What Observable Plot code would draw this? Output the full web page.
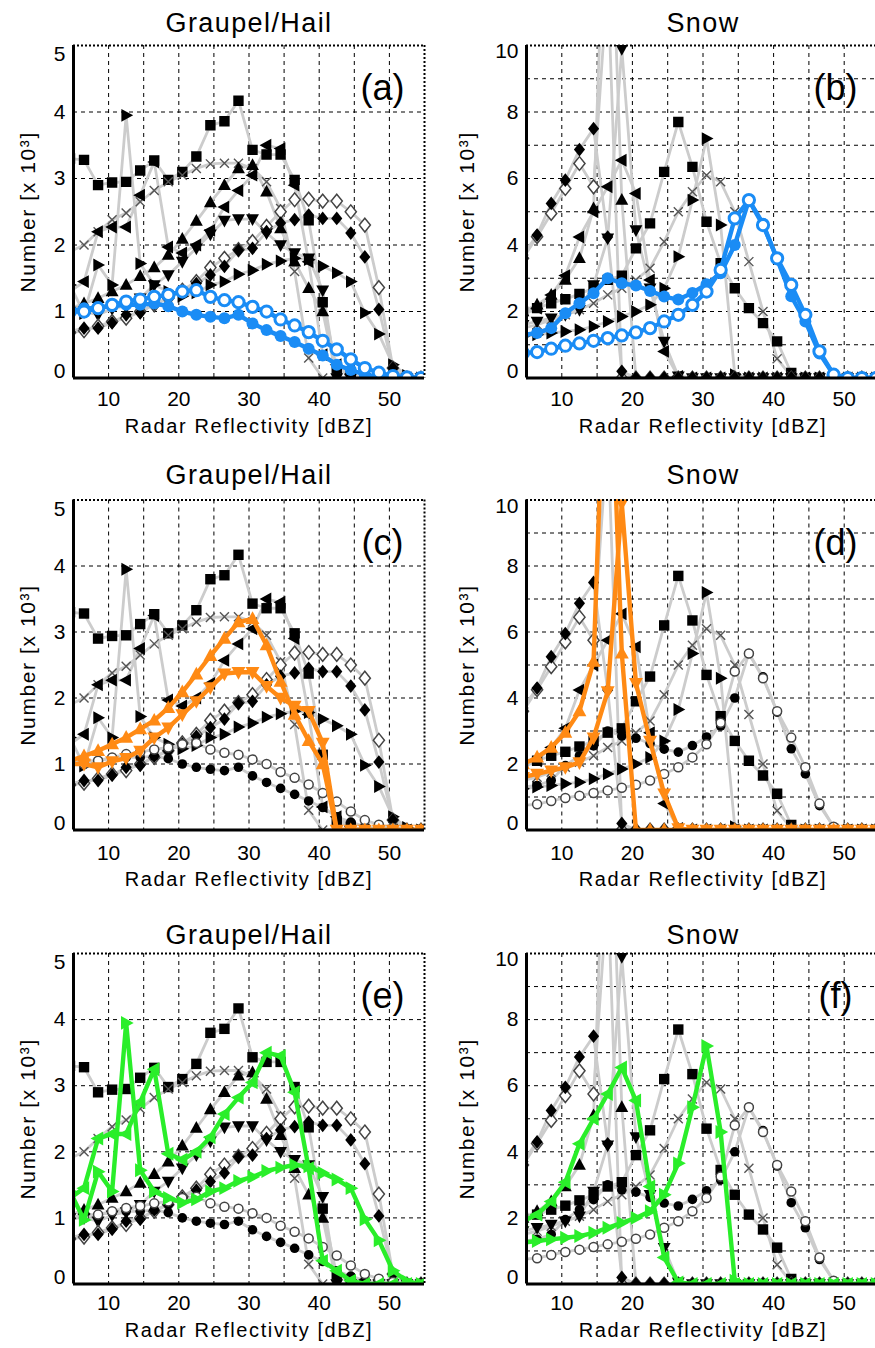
<!DOCTYPE html>
<html><head><meta charset="utf-8">
<script src="https://cdn.jsdelivr.net/npm/d3@7"></script>
<script src="https://cdn.jsdelivr.net/npm/@observablehq/plot@0.6"></script>
<style>
html,body{margin:0;padding:0;background:#fff;overflow:hidden;width:875px;height:1348px;}
#root{position:relative;width:875px;height:1348px;overflow:hidden;}
.panel{position:absolute;}
.panel svg{max-width:none !important;}
</style></head><body><div id="root"></div>
<script>
// ---------- data ----------
const dBZ = [4.5, 6.5, 8.5, 10.5, 12.5, 14.5, 16.5, 18.5, 20.5, 22.5, 24.5, 26.5, 28.5, 30.5, 32.5, 34.5, 36.5, 38.5, 40.5, 42.5, 44.5, 46.5, 48.5, 50.5, 52.5, 54.5];
const xTicks = [10, 20, 30, 40, 50];
const gridX = [10, 15, 20, 25, 30, 35, 40, 45, 50];
const gridYGraupel = [1, 2, 3, 4];
const gridYSnow = [1, 2, 3, 4, 5, 6, 7, 8, 9];
const yTicksGraupel = [0, 1, 2, 3, 4, 5];
const yTicksSnow = [0, 2, 4, 6, 8, 10];

// Graupel/Hail  (Number x 10^3)
const gSquare      = [3.30, 3.28, 2.90, 2.94, 2.95, 3.12, 3.27, 2.98, 3.10, 3.33, 3.80, 3.86, 4.17, 3.43, 3.36, 3.36, 2.98, 2.37, 1.14, 0.13, 0.05, 0, 0, 0, 0, 0];
const gCross       = [1.90, 2.00, 2.20, 2.38, 2.48, 2.65, 2.82, 2.95, 3.05, 3.15, 3.22, 3.23, 3.23, 3.15, 2.95, 2.55, 1.60, 0.30, 0, 0, 0, 0, 0, 0, 0, 0];
const gTriUp       = [1.05, 1.12, 1.20, 1.30, 1.40, 1.53, 1.66, 1.85, 2.09, 2.36, 2.64, 2.90, 3.15, 3.20, 2.80, 2.25, 1.75, 1.35, 1.00, 0, 0, 0, 0, 0, 0, 0];
const gTriDown     = [1.00, 1.00, 0.95, 1.04, 1.09, 1.20, 1.40, 1.55, 1.75, 1.95, 2.16, 2.37, 2.39, 2.39, 2.18, 2.00, 1.88, 1.80, 1.32, 0, 0, 0, 0, 0, 0, 0];
const gTriLeft     = [1.30, 1.45, 2.20, 2.27, 2.27, 2.75, 3.25, 1.97, 1.88, 2.00, 2.22, 2.57, 2.82, 3.05, 3.50, 3.45, 2.90, 1.75, 0.35, 0.20, 0.05, 0, 0, 0, 0, 0];
const gTriRight    = [1.40, 0.97, 1.70, 1.40, 3.95, 1.72, 1.40, 1.30, 1.23, 1.28, 1.40, 1.45, 1.56, 1.62, 1.71, 1.76, 1.80, 1.78, 1.68, 1.58, 1.45, 0.98, 0.66, 0.20, 0.04, 0];
const gDiamond     = [0.70, 0.75, 0.75, 0.83, 0.95, 0.98, 1.12, 1.20, 1.30, 1.42, 1.55, 1.68, 1.92, 1.95, 2.20, 2.33, 2.38, 2.45, 2.40, 2.40, 2.18, 1.82, 1.03, 0.15, 0, 0];
const gDiamondOpen = [0.68, 0.71, 0.78, 0.85, 0.90, 1.00, 1.10, 1.20, 1.32, 1.45, 1.66, 1.80, 1.93, 2.05, 2.28, 2.50, 2.68, 2.69, 2.66, 2.66, 2.50, 2.30, 1.36, 0.15, 0, 0];
const gCircle      = [1.00, 1.05, 1.05, 1.08, 1.10, 1.10, 1.12, 1.08, 1.00, 0.95, 0.92, 0.90, 0.95, 0.82, 0.72, 0.63, 0.54, 0.44, 0.34, 0.20, 0.12, 0.05, 0.02, 0.01, 0, 0];
const gCircleOpen  = [1.00, 1.00, 1.05, 1.10, 1.15, 1.18, 1.22, 1.25, 1.30, 1.32, 1.22, 1.17, 1.14, 1.07, 1.00, 0.88, 0.79, 0.69, 0.56, 0.43, 0.28, 0.15, 0.08, 0.03, 0.01, 0];

// Snow  (Number x 10^3)
const sSquare      = [2.00, 2.10, 2.25, 2.37, 2.53, 2.70, 2.95, 3.08, 3.90, 4.65, 6.20, 7.70, 6.35, 4.70, 3.45, 2.70, 2.10, 1.65, 1.10, 0.15, 0, 0, 0, 0, 0, 0];
const sCross       = [1.50, 1.60, 1.75, 1.90, 2.05, 2.25, 2.50, 2.70, 2.95, 3.30, 4.10, 5.00, 5.60, 6.10, 5.90, 5.00, 3.50, 2.00, 0.58, 0.05, 0, 0, 0, 0, 0, 0];
const sTriUp       = [2.00, 2.20, 2.50, 2.95, 3.60, 5.10, 17.0, 5.35, 0, 0, 0, 0, 0, 0, 0, 0, 0, 0, 0, 0, 0, 0, 0, 0, 0, 0];
const sTriDown     = [1.60, 1.70, 1.80, 1.90, 2.05, 2.80, 4.20, 9.90, 4.45, 2.70, 1.10, 0.05, 0, 0, 0, 0, 0, 0, 0, 0, 0, 0, 0, 0, 0, 0];
const sTriLeft     = [1.90, 2.10, 2.50, 3.08, 4.24, 5.00, 5.75, 6.55, 5.55, 2.95, 0.80, 0.05, 0, 0, 0, 0, 0, 0, 0, 0, 0, 0, 0, 0, 0, 0];
const sTriRight    = [1.25, 1.30, 1.35, 1.40, 1.45, 1.55, 1.70, 1.85, 2.00, 2.20, 2.70, 3.65, 5.35, 7.20, 4.60, 0.10, 0, 0, 0, 0, 0, 0, 0, 0, 0, 0];
const sDiamond     = [3.70, 4.30, 5.25, 5.95, 6.87, 7.50, 4.24, 0.20, 0, 0, 0, 0, 0, 0, 0, 0, 0, 0, 0, 0, 0, 0, 0, 0, 0, 0];
const sDiamondOpen = [3.60, 4.25, 4.95, 5.70, 6.45, 5.75, 12.0, 0, 0, 0, 0, 0, 0, 0, 0, 0, 0, 0, 0, 0, 0, 0, 0, 0, 0, 0];
const sCircle      = [1.30, 1.35, 1.50, 1.95, 2.25, 2.55, 3.00, 2.85, 2.78, 2.62, 2.45, 2.36, 2.56, 2.82, 3.15, 4.00, 5.35, 4.64, 3.57, 2.46, 1.70, 0.74, 0.10, 0, 0, 0];
const sCircleOpen  = [0.75, 0.78, 0.88, 0.97, 1.04, 1.12, 1.20, 1.28, 1.37, 1.50, 1.70, 1.90, 2.20, 2.60, 3.25, 4.80, 5.35, 4.60, 3.60, 2.80, 1.90, 0.80, 0.10, 0, 0, 0];

const seriesKeys = ["square", "cross", "triUp", "triDown", "triLeft", "triRight", "diamondOpen", "diamond", "circle", "circleOpen"];
const graupelValues = [gSquare, gCross, gTriUp, gTriDown, gTriLeft, gTriRight, gDiamondOpen, gDiamond, gCircle, gCircleOpen];
const snowValues    = [sSquare, sCross, sTriUp, sTriDown, sTriLeft, sTriRight, sDiamondOpen, sDiamond, sCircle, sCircleOpen];

const panelTags   = ["(a)", "(b)", "(c)", "(d)", "(e)", "(f)"];
const panelTitles = ["Graupel/Hail", "Snow", "Graupel/Hail", "Snow", "Graupel/Hail", "Snow"];
const xAxisTitle = "Radar Reflectivity [dBZ]";
const yAxisTitle = "Number [x 10³]";
const highlighted = [["circle", "circleOpen"], ["circle", "circleOpen"], ["triUp", "triDown"], ["triUp", "triDown"], ["triRight", "triLeft"], ["triRight", "triLeft"]];

// ---------- styles ----------
const BLUE = "#1a8cf5", ORANGE = "#ff8a14", GREEN = "#2aee2a", GRAY = "#cccccc";
const hiColors = [BLUE, BLUE, ORANGE, ORANGE, GREEN, GREEN];

function poly(pts) {
  return {draw(ctx, size) {
    const r = Math.sqrt(size / Math.PI);
    ctx.moveTo(pts[0][0] * r, pts[0][1] * r);
    for (let i = 1; i < pts.length; i++) ctx.lineTo(pts[i][0] * r, pts[i][1] * r);
    ctx.closePath();
  }};
}
const SYM = {
  square: poly([[-1, -1], [1, -1], [1, 1], [-1, 1]]),
  triUp: poly([[0, -1.25], [1.15, 0.85], [-1.15, 0.85]]),
  triDown: poly([[0, 1.25], [1.15, -0.85], [-1.15, -0.85]]),
  triLeft: poly([[-1.25, 0], [0.85, -1.15], [0.85, 1.15]]),
  triRight: poly([[1.25, 0], [-0.85, -1.15], [-0.85, 1.15]]),
  diamond: poly([[0, -1.3], [1.05, 0], [0, 1.3], [-1.05, 0]]),
  circle: {draw(ctx, size) { const r = Math.sqrt(size / Math.PI); ctx.moveTo(r, 0); ctx.arc(0, 0, r, 0, 2 * Math.PI); }},
  cross: {draw(ctx, size) { const r = Math.sqrt(size / Math.PI); ctx.moveTo(-r, -r); ctx.lineTo(r, r); ctx.moveTo(r, -r); ctx.lineTo(-r, r); }}
};
const markerStyle = {
  square:      {sym: "square", r: 5.2, kind: "fill"},
  cross:       {sym: "cross", r: 4.5, kind: "cross"},
  triUp:       {sym: "triUp", r: 5.6, kind: "fill"},
  triDown:     {sym: "triDown", r: 5.6, kind: "fill"},
  triLeft:     {sym: "triLeft", r: 5.6, kind: "fill"},
  triRight:    {sym: "triRight", r: 5.6, kind: "fill"},
  diamond:     {sym: "diamond", r: 5.3, kind: "fill"},
  diamondOpen: {sym: "diamond", r: 5.3, kind: "open"},
  circle:      {sym: "circle", r: 4.8, kind: "fill"},
  circleOpen:  {sym: "circle", r: 4.5, kind: "open"}
};

const cols = [
  {left: 0, width: 437, ml: 73, mr: 13, ylabDx: -45, tagDx: -42},
  {left: 437, width: 456, ml: 89, mr: 14, ylabDx: -59, tagDx: -44}
];
const rowsLayout = [
  {top: 0, height: 448, mt: 45, mb: 70.5, titleDy: -22, xPad: 13.5, xlabDy: 48.5},
  {top: 450, height: 448, mt: 49.5, mb: 68.5, titleDy: -24.5, xPad: 15, xlabDy: 49.5},
  {top: 900, height: 448, mt: 53, mb: 64.5, titleDy: -18, xPad: 11.5, xlabDy: 46.5}
];

function rowsOf(values) { return dBZ.map((x, i) => ({x, y: values[i]})); }

function dotMark(rows, key, color, hi) {
  const st = markerStyle[key];
  const scale = hi ? (st.sym === "circle" ? 1.25 : 1.08) : 1;
  const base = {x: "x", y: "y", symbol: SYM[st.sym], r: st.r * scale, clip: true};
  if (st.kind === "cross") return Plot.dot(rows, {...base, fill: "none", stroke: hi ? color : "#555", strokeWidth: hi ? 2 : 1.4});
  if (st.kind === "open") return Plot.dot(rows, {...base, fill: "white", stroke: hi ? color : "#444", strokeWidth: hi ? 3 : 1.5});
  return Plot.dot(rows, {...base, fill: color, stroke: "none"});
}

function makePanel(idx) {
  const col = cols[idx % 2], row = rowsLayout[Math.floor(idx / 2)];
  const isSnow = idx % 2 === 1;
  const values = isSnow ? snowValues : graupelValues;
  const yMax = isSnow ? 10 : 5;
  const yTicks = isSnow ? yTicksSnow : yTicksGraupel;
  const hi = highlighted[idx], color = hiColors[idx];
  const fmt = d => String(d);
  const marks = [];
  marks.push(Plot.ruleX(gridX, {stroke: "#000", strokeWidth: 1, strokeDasharray: "4,4"}));
  marks.push(Plot.ruleY(isSnow ? gridYSnow : gridYGraupel, {stroke: "#000", strokeWidth: 1, strokeDasharray: "4,4"}));
  seriesKeys.forEach((k, i) => {
    if (!hi.includes(k)) marks.push(Plot.line(rowsOf(values[i]), {x: "x", y: "y", stroke: GRAY, strokeWidth: 2.8, clip: true}));
  });
  seriesKeys.forEach((k, i) => {
    if (!hi.includes(k)) marks.push(dotMark(rowsOf(values[i]), k, "#000", false));
  });
  hi.forEach(k => {
    const i = seriesKeys.indexOf(k);
    marks.push(Plot.line(rowsOf(values[i]), {x: "x", y: "y", stroke: color, strokeWidth: 4.4, clip: true}));
  });
  hi.forEach(k => {
    const i = seriesKeys.indexOf(k);
    marks.push(dotMark(rowsOf(values[i]), k, color, true));
  });
  // frame
  marks.push(Plot.ruleY([yMax], {stroke: "#000", strokeWidth: 2, strokeDasharray: "2,2"}));
  marks.push(Plot.ruleX([55], {stroke: "#000", strokeWidth: 2, strokeDasharray: "2,2"}));
  marks.push(Plot.ruleX([5], {stroke: "#000", strokeWidth: 3}));
  marks.push(Plot.ruleY([0], {stroke: "#000", strokeWidth: 3}));
  // axes
  marks.push(Plot.axisX(xTicks, {anchor: "bottom", tickSize: 0, tickPadding: row.xPad, label: null, fontSize: 21, tickFormat: fmt}));
  marks.push(Plot.axisY(yTicks.slice(1, -1), {anchor: "left", tickSize: 0, tickPadding: 8, label: null, fontSize: 21, tickFormat: fmt}));
  marks.push(Plot.axisY([yTicks[0]], {anchor: "left", tickSize: 0, tickPadding: 8, label: null, fontSize: 21, dy: -7, tickFormat: fmt}));
  marks.push(Plot.axisY([yTicks[yTicks.length - 1]], {anchor: "left", tickSize: 0, tickPadding: 8, label: null, fontSize: 21, dy: isSnow ? 6 : 9, tickFormat: fmt}));
  // texts
  marks.push(Plot.text([panelTitles[idx]], {text: d => d, frameAnchor: "top", dy: row.titleDy, fontSize: 27, textAnchor: "middle", lineAnchor: "middle"}));
  marks.push(Plot.text([xAxisTitle], {text: d => d, frameAnchor: "bottom", dy: row.xlabDy, fontSize: 20, textAnchor: "middle", lineAnchor: "middle"}));
  marks.push(Plot.text([yAxisTitle], {text: d => d, frameAnchor: "left", dx: col.ylabDx, rotate: -90, fontSize: 21, textAnchor: "middle", lineAnchor: "middle"}));
  marks.push(Plot.text([panelTags[idx]], {text: d => d, frameAnchor: "top-right", dx: col.tagDx, dy: 43, fontSize: 36, textAnchor: "middle", lineAnchor: "middle"}));

  const svg = Plot.plot({
    width: col.width, height: row.height,
    marginLeft: col.ml, marginRight: col.mr, marginTop: row.mt, marginBottom: row.mb,
    x: {domain: [5, 55]},
    y: {domain: [0, yMax]},
    style: {fontFamily: "'Liberation Sans', Arial, Helvetica, sans-serif", fontSize: "21px", color: "#000", background: "transparent", overflow: "visible", maxWidth: "none"},
    marks
  });
  d3.select(svg).selectAll("text").each(function() {
    const t = this.textContent;
    if (panelTitles.includes(t)) this.setAttribute("letter-spacing", "1.4");
    else if (t === xAxisTitle || t === yAxisTitle) this.setAttribute("letter-spacing", "1.6");
  });
  const wrap = document.createElement("div");
  wrap.className = "panel";
  wrap.style.left = col.left + "px";
  wrap.style.top = row.top + "px";
  wrap.style.width = col.width + "px";
  wrap.style.height = row.height + "px";
  wrap.appendChild(svg);
  document.getElementById("root").appendChild(wrap);
}

for (let i = 0; i < 6; i++) makePanel(i);
</script>
</body></html>
